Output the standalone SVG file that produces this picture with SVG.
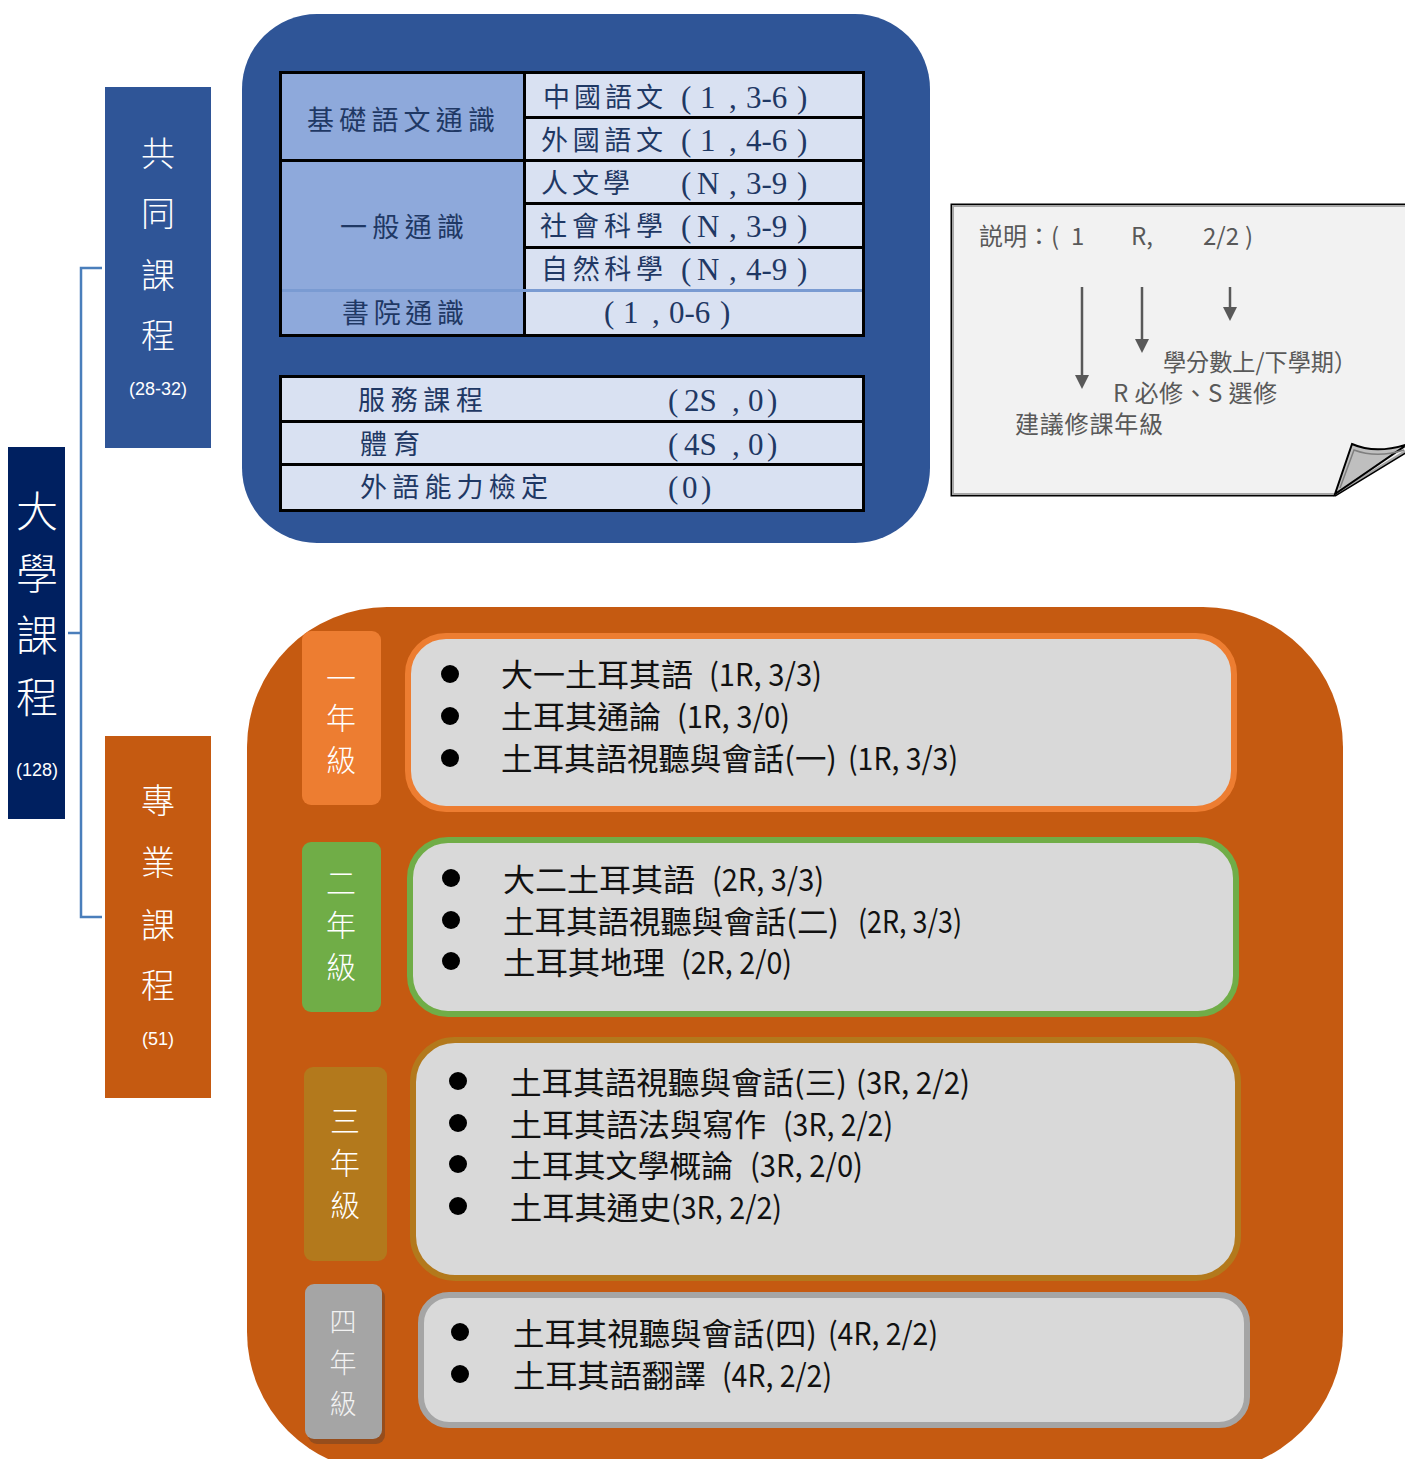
<svg xmlns="http://www.w3.org/2000/svg" width="1405" height="1459" viewBox="0 0 1405 1459">
<defs>
<style>
.vt{font-family:"Noto Sans CJK TC","Noto Sans",sans-serif;fill:#fff;text-anchor:middle;font-weight:300}
.sm{font-family:"Liberation Sans","Noto Sans",sans-serif;fill:#fff;text-anchor:middle;font-size:18px}
.tb{font-family:"Liberation Serif","Noto Sans CJK TC",serif;fill:#1F3864;font-size:27px}
.tn{font-family:"Liberation Serif","Noto Sans CJK TC",serif;fill:#1F3864;font-size:31px}
.cell-r{fill:#D9E1F2}
.cell-l{fill:#8EA9DB}
.note{font-family:"Noto Sans CJK TC","Liberation Sans",sans-serif;fill:#595959;font-size:24px}
.item{font-family:"Noto Sans CJK TC","Liberation Sans",sans-serif;fill:#111;font-size:31px}
.yr{font-family:"Noto Sans CJK TC",sans-serif;fill:#fff;font-size:30px;text-anchor:middle;font-weight:300}
.yr4{font-family:"Noto Sans CJK TC",sans-serif;fill:#F2F2F2;font-size:27px;text-anchor:middle;font-weight:300}
.conn{fill:none;stroke:#4A7EBB;stroke-width:2.5}
.arr{stroke:#595959;stroke-width:2.5}
.ah{fill:#595959}
</style>
</defs>
<rect width="1405" height="1459" fill="#fff"/>

<g id="connectors">
<path class="conn" d="M102,268 H81 V917 H102"/>
<path class="conn" d="M68,633 H81"/>
</g>

<g id="node-daxue">
<rect x="8" y="447" width="57" height="372" fill="#002060"/>
<text class="vt" x="37" y="527" font-size="42">大</text>
<text class="vt" x="37" y="589" font-size="42">學</text>
<text class="vt" x="37" y="651" font-size="42">課</text>
<text class="vt" x="37" y="713" font-size="42">程</text>
<text class="sm" x="37" y="776">(128)</text>
</g>

<g id="node-gongtong">
<rect x="105" y="87" width="106" height="361" fill="#2F5597"/>
<text class="vt" x="158" y="166" font-size="34">共</text>
<text class="vt" x="158" y="226" font-size="34">同</text>
<text class="vt" x="158" y="288" font-size="34">課</text>
<text class="vt" x="158" y="348" font-size="34">程</text>
<text class="sm" x="158" y="395">(28-32)</text>
</g>

<g id="node-zhuanye">
<rect x="105" y="736" width="106" height="362" fill="#C55A11"/>
<text class="vt" x="158" y="813" font-size="34">專</text>
<text class="vt" x="158" y="875" font-size="34">業</text>
<text class="vt" x="158" y="938" font-size="34">課</text>
<text class="vt" x="158" y="998" font-size="34">程</text>
<text class="sm" x="158" y="1045">(51)</text>
</g>

<g id="node-common-panel">
<rect x="242" y="14" width="688" height="529" rx="75" fill="#2F5597"/>
<rect x="279" y="71" width="586" height="266" fill="#000"/>
<rect class="cell-l" x="282" y="74" width="241" height="85"/>
<rect class="cell-l" x="282" y="162" width="241" height="127"/>
<rect class="cell-l" x="282" y="292" width="241" height="42"/>
<rect class="cell-r" x="526" y="74" width="336" height="42"/>
<rect class="cell-r" x="526" y="119" width="336" height="40"/>
<rect class="cell-r" x="526" y="162" width="336" height="40"/>
<rect class="cell-r" x="526" y="205" width="336" height="41"/>
<rect class="cell-r" x="526" y="249" width="336" height="40"/>
<rect class="cell-r" x="526" y="292" width="336" height="42"/>
<rect x="282" y="289" width="580" height="3" fill="#7A9BD2"/>
<text class="tb" x="307" y="130" textLength="188" lengthAdjust="spacing">基礎語文通識</text>
<text class="tb" x="340" y="237" textLength="124" lengthAdjust="spacing">一般通識</text>
<text class="tb" x="342" y="323" textLength="122" lengthAdjust="spacing">書院通識</text>
<text class="tb" x="543" y="107" textLength="120" lengthAdjust="spacing">中國語文</text>
<text class="tn" y="108"><tspan x="681">(</tspan><tspan x="700">1</tspan><tspan x="729">,</tspan><tspan x="746">3-6</tspan><tspan x="797">)</tspan></text>
<text class="tb" x="541" y="150" textLength="122" lengthAdjust="spacing">外國語文</text>
<text class="tn" y="151"><tspan x="681">(</tspan><tspan x="700">1</tspan><tspan x="729">,</tspan><tspan x="746">4-6</tspan><tspan x="797">)</tspan></text>
<text class="tb" x="541" y="193" textLength="89" lengthAdjust="spacing">人文學</text>
<text class="tn" y="194"><tspan x="681">(</tspan><tspan x="697">N</tspan><tspan x="729">,</tspan><tspan x="746">3-9</tspan><tspan x="797">)</tspan></text>
<text class="tb" x="540" y="236" textLength="123" lengthAdjust="spacing">社會科學</text>
<text class="tn" y="237"><tspan x="681">(</tspan><tspan x="697">N</tspan><tspan x="729">,</tspan><tspan x="746">3-9</tspan><tspan x="797">)</tspan></text>
<text class="tb" x="541" y="279" textLength="122" lengthAdjust="spacing">自然科學</text>
<text class="tn" y="280"><tspan x="681">(</tspan><tspan x="697">N</tspan><tspan x="729">,</tspan><tspan x="746">4-9</tspan><tspan x="797">)</tspan></text>
<text class="tn" y="323"><tspan x="604">(</tspan><tspan x="623">1</tspan><tspan x="652">,</tspan><tspan x="669">0-6</tspan><tspan x="720">)</tspan></text>

<rect x="279" y="375" width="586" height="137" fill="#000"/>
<rect class="cell-r" x="282" y="378" width="580" height="42"/>
<rect class="cell-r" x="282" y="423" width="580" height="40"/>
<rect class="cell-r" x="282" y="466" width="580" height="43"/>
<text class="tb" x="358" y="410" textLength="125" lengthAdjust="spacing">服務課程</text>
<text class="tn" y="411"><tspan x="668">(</tspan><tspan x="684">2S</tspan><tspan x="732">,</tspan><tspan x="748">0</tspan><tspan x="767">)</tspan></text>
<text class="tb" x="360" y="454" textLength="60" lengthAdjust="spacing">體育</text>
<text class="tn" y="455"><tspan x="668">(</tspan><tspan x="684">4S</tspan><tspan x="732">,</tspan><tspan x="748">0</tspan><tspan x="767">)</tspan></text>
<text class="tb" x="360" y="497" textLength="188" lengthAdjust="spacing">外語能力檢定</text>
<text class="tn" y="498"><tspan x="668">(</tspan><tspan x="682">0</tspan><tspan x="701">)</tspan></text>
</g>

<g id="node-note">
<path d="M953,206 H1412 V447 L1335,494 H953 Z" fill="#F2F2F2" stroke="#000" stroke-width="5"/>
<path d="M953,206 H1412 V447 L1335,494 H953 Z" fill="#F2F2F2" stroke="#A6A6A6" stroke-width="2"/>
<path d="M1335,494 L1352,444 C1370,452 1390,450 1408,444 Z" fill="#BFBFBF" stroke="#000" stroke-width="2"/>
<path d="M1340,488 L1354,450 C1370,456 1388,455 1404,450" fill="none" stroke="#7F7F7F" stroke-width="1.5"/>
<text class="note" x="979" y="245">説明：(</text>
<text class="note" x="1071" y="245">1</text>
<text class="note" x="1131" y="245">R,</text>
<text class="note" x="1203" y="245">2/2</text>
<text class="note" x="1245" y="245">)</text>
<line class="arr" x1="1082" y1="287" x2="1082" y2="378"/>
<path class="ah" d="M1075,375 L1089,375 L1082,389 Z"/>
<line class="arr" x1="1142" y1="287" x2="1142" y2="342"/>
<path class="ah" d="M1135,339 L1149,339 L1142,353 Z"/>
<line class="arr" x1="1230" y1="287" x2="1230" y2="310"/>
<path class="ah" d="M1223,307 L1237,307 L1230,321 Z"/>
<text class="note" x="1163" y="371" textLength="194" lengthAdjust="spacingAndGlyphs">學分數上/下學期）</text>
<text class="note" x="1113" y="402" textLength="164" lengthAdjust="spacing">R 必修、S 選修</text>
<text class="note" x="1015" y="433" textLength="148" lengthAdjust="spacing">建議修課年級</text>
</g>

<g id="node-major-panel">
<rect x="247" y="607" width="1096" height="865" rx="140" fill="#C55A11"/>
</g>

<g id="node-year1">
<rect x="302" y="631" width="79" height="174" rx="9" fill="#ED7D31"/>
<text class="yr" x="341" y="689">一</text>
<text class="yr" x="341" y="729">年</text>
<text class="yr" x="341" y="771">級</text>
<rect x="408" y="636" width="826" height="173" rx="38" fill="#D9D9D9" stroke="#ED7D31" stroke-width="6"/>
<circle cx="450" cy="674" r="9" fill="#000"/>
<circle cx="450" cy="716" r="9" fill="#000"/>
<circle cx="450" cy="758" r="9" fill="#000"/>
<text class="item" x="501" y="686" textLength="192" lengthAdjust="spacingAndGlyphs">大一土耳其語</text>
<text class="item" x="709" y="686" textLength="113" lengthAdjust="spacingAndGlyphs">(1R, 3/3)</text>
<text class="item" x="501" y="728" textLength="160" lengthAdjust="spacingAndGlyphs">土耳其通論</text>
<text class="item" x="677" y="728" textLength="113" lengthAdjust="spacingAndGlyphs">(1R, 3/0)</text>
<text class="item" x="501" y="770" textLength="336" lengthAdjust="spacingAndGlyphs">土耳其語視聽與會話(一)</text>
<text class="item" x="848" y="770" textLength="110" lengthAdjust="spacingAndGlyphs">(1R, 3/3)</text>
</g>

<g id="node-year2">
<rect x="302" y="842" width="79" height="170" rx="9" fill="#70AD47"/>
<text class="yr" x="341" y="894">二</text>
<text class="yr" x="341" y="936">年</text>
<text class="yr" x="341" y="978">級</text>
<rect x="410" y="840" width="826" height="174" rx="38" fill="#D9D9D9" stroke="#70AD47" stroke-width="6"/>
<circle cx="451" cy="878" r="9" fill="#000"/>
<circle cx="451" cy="920" r="9" fill="#000"/>
<circle cx="451" cy="961" r="9" fill="#000"/>
<text class="item" x="503" y="891" textLength="192" lengthAdjust="spacingAndGlyphs">大二土耳其語</text>
<text class="item" x="712" y="891" textLength="112" lengthAdjust="spacingAndGlyphs">(2R, 3/3)</text>
<text class="item" x="503" y="933" textLength="336" lengthAdjust="spacingAndGlyphs">土耳其語視聽與會話(二)</text>
<text class="item" x="858" y="933" textLength="104" lengthAdjust="spacingAndGlyphs">(2R, 3/3)</text>
<text class="item" x="503" y="974" textLength="162" lengthAdjust="spacingAndGlyphs">土耳其地理</text>
<text class="item" x="681" y="974" textLength="111" lengthAdjust="spacingAndGlyphs">(2R, 2/0)</text>
</g>

<g id="node-year3">
<rect x="304" y="1067" width="83" height="194" rx="9" fill="#B3791C"/>
<text class="yr" x="345" y="1132">三</text>
<text class="yr" x="345" y="1174">年</text>
<text class="yr" x="345" y="1216">級</text>
<rect x="413" y="1040" width="825" height="238" rx="42" fill="#D9D9D9" stroke="#B3791C" stroke-width="6"/>
<circle cx="458" cy="1081" r="9" fill="#000"/>
<circle cx="458" cy="1123" r="9" fill="#000"/>
<circle cx="458" cy="1164" r="9" fill="#000"/>
<circle cx="458" cy="1206" r="9" fill="#000"/>
<text class="item" x="510" y="1094" textLength="337" lengthAdjust="spacingAndGlyphs">土耳其語視聽與會話(三)</text>
<text class="item" x="856" y="1094" textLength="114" lengthAdjust="spacingAndGlyphs">(3R, 2/2)</text>
<text class="item" x="510" y="1136" textLength="256" lengthAdjust="spacingAndGlyphs">土耳其語法與寫作</text>
<text class="item" x="783" y="1136" textLength="110" lengthAdjust="spacingAndGlyphs">(3R, 2/2)</text>
<text class="item" x="510" y="1177" textLength="223" lengthAdjust="spacingAndGlyphs">土耳其文學概論</text>
<text class="item" x="750" y="1177" textLength="113" lengthAdjust="spacingAndGlyphs">(3R, 2/0)</text>
<text class="item" x="510" y="1219" textLength="161" lengthAdjust="spacingAndGlyphs">土耳其通史</text>
<text class="item" x="671" y="1219" textLength="111" lengthAdjust="spacingAndGlyphs">(3R, 2/2)</text>
</g>

<g id="node-year4">
<rect x="308" y="1288" width="77" height="156" rx="9" fill="#8A4A1F" opacity="0.8"/>
<rect x="305" y="1284" width="77" height="155" rx="9" fill="#A5A5A5"/>
<text class="yr4" x="343" y="1332">四</text>
<text class="yr4" x="343" y="1373">年</text>
<text class="yr4" x="343" y="1414">級</text>
<rect x="421" y="1295" width="826" height="130" rx="28" fill="#D9D9D9" stroke="#A5A5A5" stroke-width="6"/>
<circle cx="460" cy="1332" r="9" fill="#000"/>
<circle cx="460" cy="1374" r="9" fill="#000"/>
<text class="item" x="513" y="1345" textLength="304" lengthAdjust="spacingAndGlyphs">土耳其視聽與會話(四)</text>
<text class="item" x="828" y="1345" textLength="110" lengthAdjust="spacingAndGlyphs">(4R, 2/2)</text>
<text class="item" x="513" y="1387" textLength="193" lengthAdjust="spacingAndGlyphs">土耳其語翻譯</text>
<text class="item" x="722" y="1387" textLength="110" lengthAdjust="spacingAndGlyphs">(4R, 2/2)</text>
</g>
</svg>
